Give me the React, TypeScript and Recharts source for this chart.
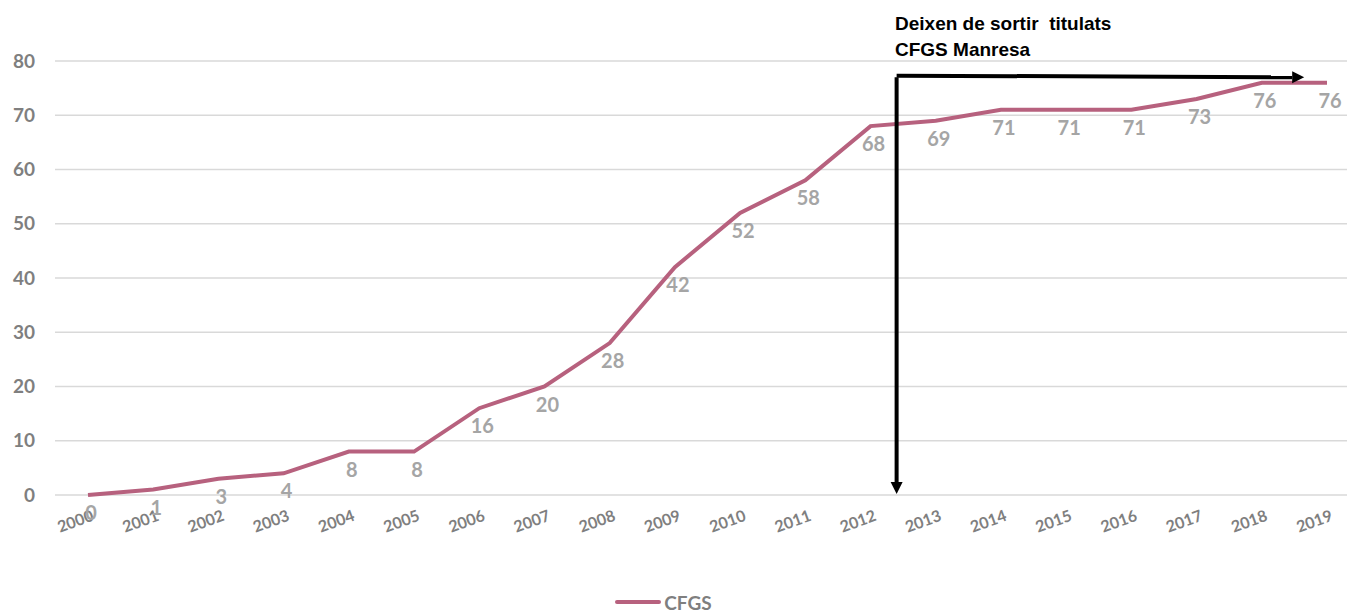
import { LineChart, Line, XAxis, YAxis, CartesianGrid, LabelList, Legend, ReferenceLine } from 'recharts';

const years = [2000, 2001, 2002, 2003, 2004, 2005, 2006, 2007, 2008, 2009, 2010, 2011, 2012, 2013, 2014, 2015, 2016, 2017, 2018, 2019];
const cfgs = [0, 1, 3, 4, 8, 8, 16, 20, 28, 42, 52, 58, 68, 69, 71, 71, 71, 73, 76, 76];
const yTicks = [0, 10, 20, 30, 40, 50, 60, 70, 80];

// arrow: vertical drop after 2012 and horizontal span to 2019
const arrowX = 2012.4;
const arrowTop = 77;
const arrowEndX = 2018.65;

const data = years.map((year, i) => ({ year, CFGS: cfgs[i] }));

const LINE_COLOR = '#b7617e';
const FONT = 'Lato, "Open Sans", sans-serif';

const arrowShape = (props: any) => {
  const { x1, y1, x2, y2 } = props;
  const dx = x2 - x1;
  const dy = y2 - y1;
  const len = Math.sqrt(dx * dx + dy * dy) || 1;
  const ux = dx / len;
  const uy = dy / len;
  const head = 12;
  const half = 6;
  const bx = x2 - ux * head;
  const by = y2 - uy * head;
  const pts = `${x2},${y2} ${bx - uy * half},${by + ux * half} ${bx + uy * half},${by - ux * half}`;
  return (
    <g>
      <line x1={x1} y1={y1} x2={bx} y2={by} stroke="#000" strokeWidth={4} />
      <polygon points={pts} fill="#000" />
    </g>
  );
};

const renderLabel = (props: any) => {
  const { x, y, value } = props;
  return (
    <text x={x + 3} y={y + 25} textAnchor="middle" fill="#a5a5a5" fontSize={20} fontWeight={700} fontFamily={FONT}>
      {value}
    </text>
  );
};

const renderXTick = (props: any) => {
  const { x, y, payload } = props;
  return (
    <text
      x={x + 2}
      y={y}
      dy={14}
      textAnchor="end"
      transform={`rotate(-20, ${x + 2}, ${y})`}
      fill="#7f7f7f"
      fontSize={16}
      fontWeight={700}
      fontFamily={FONT}
    >
      {payload.value}
    </text>
  );
};

const renderLegend = () => (
  <div
    style={{
      boxSizing: 'border-box',
      height: 40,
      paddingTop: 20,
      display: 'flex',
      justifyContent: 'center',
      alignItems: 'center',
    }}
  >
    <div style={{ display: 'flex', alignItems: 'center', marginLeft: -20 }}>
      <svg width={46} height={8} style={{ marginRight: 3 }}>
        <line x1={2} y1={4} x2={44} y2={4} stroke={LINE_COLOR} strokeWidth={4} strokeLinecap="round" />
      </svg>
      <span style={{ color: '#7f7f7f', fontSize: 19, fontWeight: 700, fontFamily: FONT }}>CFGS</span>
    </div>
  </div>
);

export default function App() {
  return (
    <div style={{ position: 'absolute', left: 0, top: 0, width: 1347, height: 612, background: '#fff' }}>
      <LineChart width={1347} height={612} data={data} margin={{ top: 61, right: 0, bottom: 0, left: 0 }}>
        <CartesianGrid vertical={false} stroke="#d9d9d9" strokeWidth={1.5} />
        <XAxis
          dataKey="year"
          type="number"
          domain={[2000, 2019]}
          ticks={years}
          padding={{ left: 33, right: 20 }}
          axisLine={false}
          tickLine={false}
          tickSize={0}
          tickMargin={12}
          height={77}
          interval={0}
          tick={renderXTick}
        />
        <YAxis
          domain={[0, 80]}
          ticks={yTicks}
          width={55}
          axisLine={false}
          tickLine={false}
          tickSize={0}
          tickMargin={20}
          tick={{ fill: '#7f7f7f', fontSize: 19, fontWeight: 700, fontFamily: FONT }}
        />
        <Legend verticalAlign="bottom" content={renderLegend} />
        <Line
          type="linear"
          dataKey="CFGS"
          stroke={LINE_COLOR}
          strokeWidth={4}
          dot={false}
          isAnimationActive={false}
        >
          <LabelList dataKey="CFGS" content={renderLabel} />
        </Line>
        <ReferenceLine
          segment={[{ x: arrowX, y: arrowTop }, { x: arrowX, y: 0.2 }]}
          shape={arrowShape}
          ifOverflow="visible"
        />
        <ReferenceLine
          segment={[{ x: arrowX, y: arrowTop + 0.3 }, { x: arrowEndX, y: arrowTop }]}
          shape={arrowShape}
          ifOverflow="visible"
        />
      </LineChart>
      <div
        style={{
          position: 'absolute',
          left: 895,
          top: 11,
          fontFamily: '"Liberation Sans", Arial, sans-serif',
          fontWeight: 700,
          fontSize: 19,
          lineHeight: '26px',
          color: '#000',
          whiteSpace: 'pre',
        }}
      >
        {'Deixen de sortir  titulats\nCFGS Manresa'}
      </div>
    </div>
  );
}
